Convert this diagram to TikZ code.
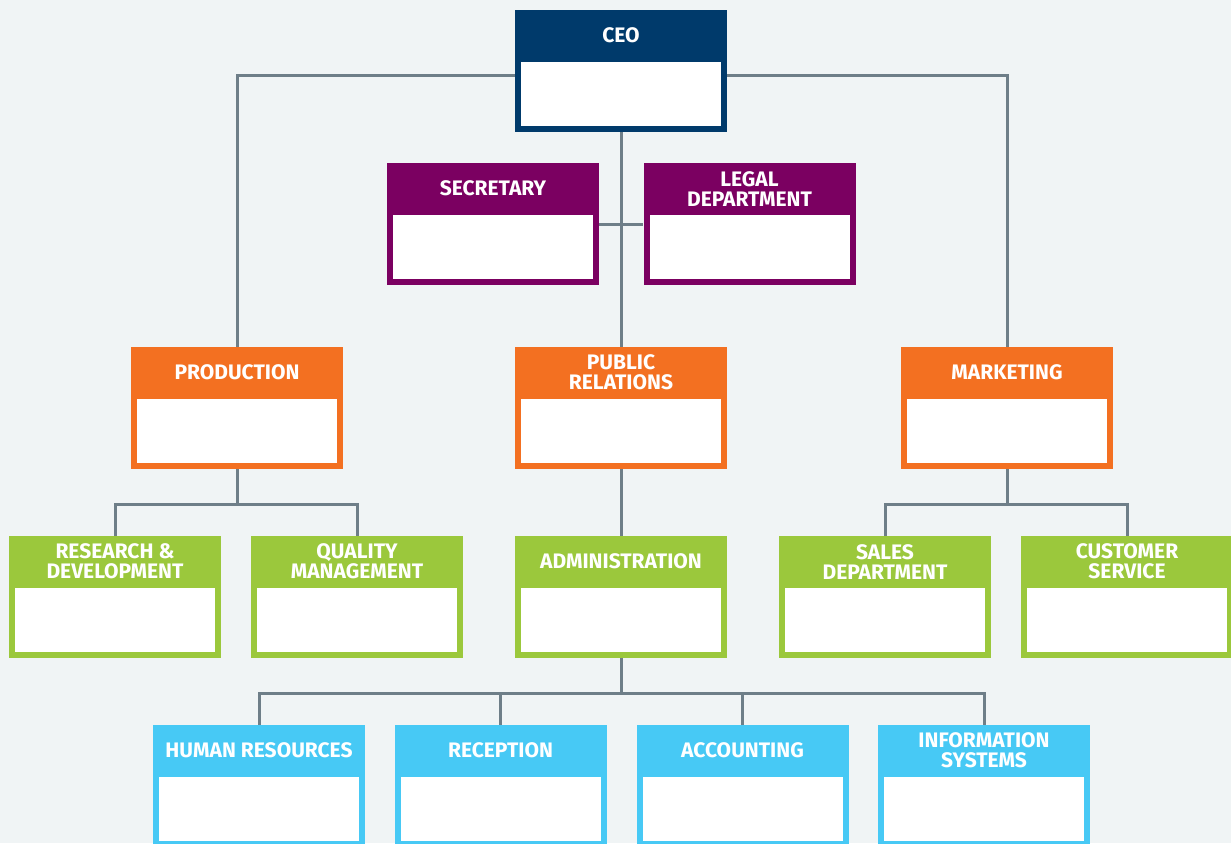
\documentclass[tikz,border=0pt]{standalone}
\usepackage{fontspec}
\setmainfont{Fira Sans}
\usepackage{tikz}
\definecolor{bg}{HTML}{F0F4F5}
\definecolor{wire}{HTML}{6E7E88}
\definecolor{navy}{HTML}{003A6B}
\definecolor{plum}{HTML}{7B0061}
\definecolor{tangerine}{HTML}{F37021}
\definecolor{lime}{HTML}{9BC83C}
\definecolor{sky}{HTML}{47C9F5}
\tikzset{
  unit/.style= {fill=#1, minimum width=106pt, minimum height=61pt, inner sep=0,
    path picture={\fill[white] ([shift={(3pt,3pt)}]path picture bounding box.south west)
      rectangle ([shift={(-3pt,-26pt)}]path picture bounding box.north east);}},
  headtext/.style= {anchor=center, yshift=-13pt, inner sep=0, align=center, text=white,
    font=\fontsize{10.5pt}{10pt}\selectfont\bfseries},
  wire/.style= {draw=wire, line width=1.5pt},
}

\begin{document}
\begin{tikzpicture}[x=0.5pt, y=0.5pt]
  \useasboundingbox (0,0) rectangle (1231,-843) ;
  \clip (0,0) rectangle (1231,-843) ;
  \fill [bg] (0,0) rectangle (1231,-843) ;

  \node [unit=navy, label={[headtext]north:CEO}] (ceo) at (621,-71) {} ;
  \node [unit=plum, label={[headtext]north:SECRETARY}] (sec) at (493,-224) {} ;
  \node [unit=plum, label={[headtext]north:{LEGAL\\DEPARTMENT}}] (legal) at (749.5,-224) {} ;
  \node [unit=tangerine, label={[headtext]north:PRODUCTION}] (prod) at (237,-408) {} ;
  \node [unit=tangerine, label={[headtext]north:{PUBLIC\\RELATIONS}}] (pr) at (621,-408) {} ;
  \node [unit=tangerine, label={[headtext]north:MARKETING}] (mkt) at (1007,-408) {} ;
  \node [unit=lime, label={[headtext]north:{RESEARCH \&\\DEVELOPMENT}}] (rnd) at (115,-597) {} ;
  \node [unit=lime, label={[headtext]north:{QUALITY\\MANAGEMENT}}] (qm) at (357,-597) {} ;
  \node [unit=lime, label={[headtext]north:ADMINISTRATION}] (admin) at (621,-597) {} ;
  \node [unit=lime, label={[headtext]north:{SALES\\DEPARTMENT}}] (sales) at (885,-597) {} ;
  \node [unit=lime, label={[headtext]north:{CUSTOMER\\SERVICE}}] (cs) at (1127,-597) {} ;
  \node [unit=sky, label={[headtext]north:HUMAN RESOURCES}] (hr) at (259,-786) {} ;
  \node [unit=sky, label={[headtext]north:RECEPTION}] (rec) at (500.5,-786) {} ;
  \node [unit=sky, label={[headtext]north:ACCOUNTING}] (acc) at (742.5,-786) {} ;
  \node [unit=sky, label={[headtext]north:{INFORMATION\\SYSTEMS}}] (info) at (984,-786) {} ;

  \draw [wire] ([yshift=-2pt]ceo.west) -| (prod.north) ;
  \draw [wire] ([yshift=-2pt]ceo.east) -| (mkt.north) ;
  \draw [wire] (ceo.south) -- (pr.north) ;
  \draw [wire] (sec.east) -- (legal.west) ;
  \foreach \up/\down in {prod/rnd, prod/qm, pr/admin, mkt/sales, mkt/cs,
                         admin/hr, admin/rec, admin/acc, admin/info}
    \draw [wire] (\up.south) -- ++(0,-35) -| (\down.north) ;
\end{tikzpicture}
\end{document}
